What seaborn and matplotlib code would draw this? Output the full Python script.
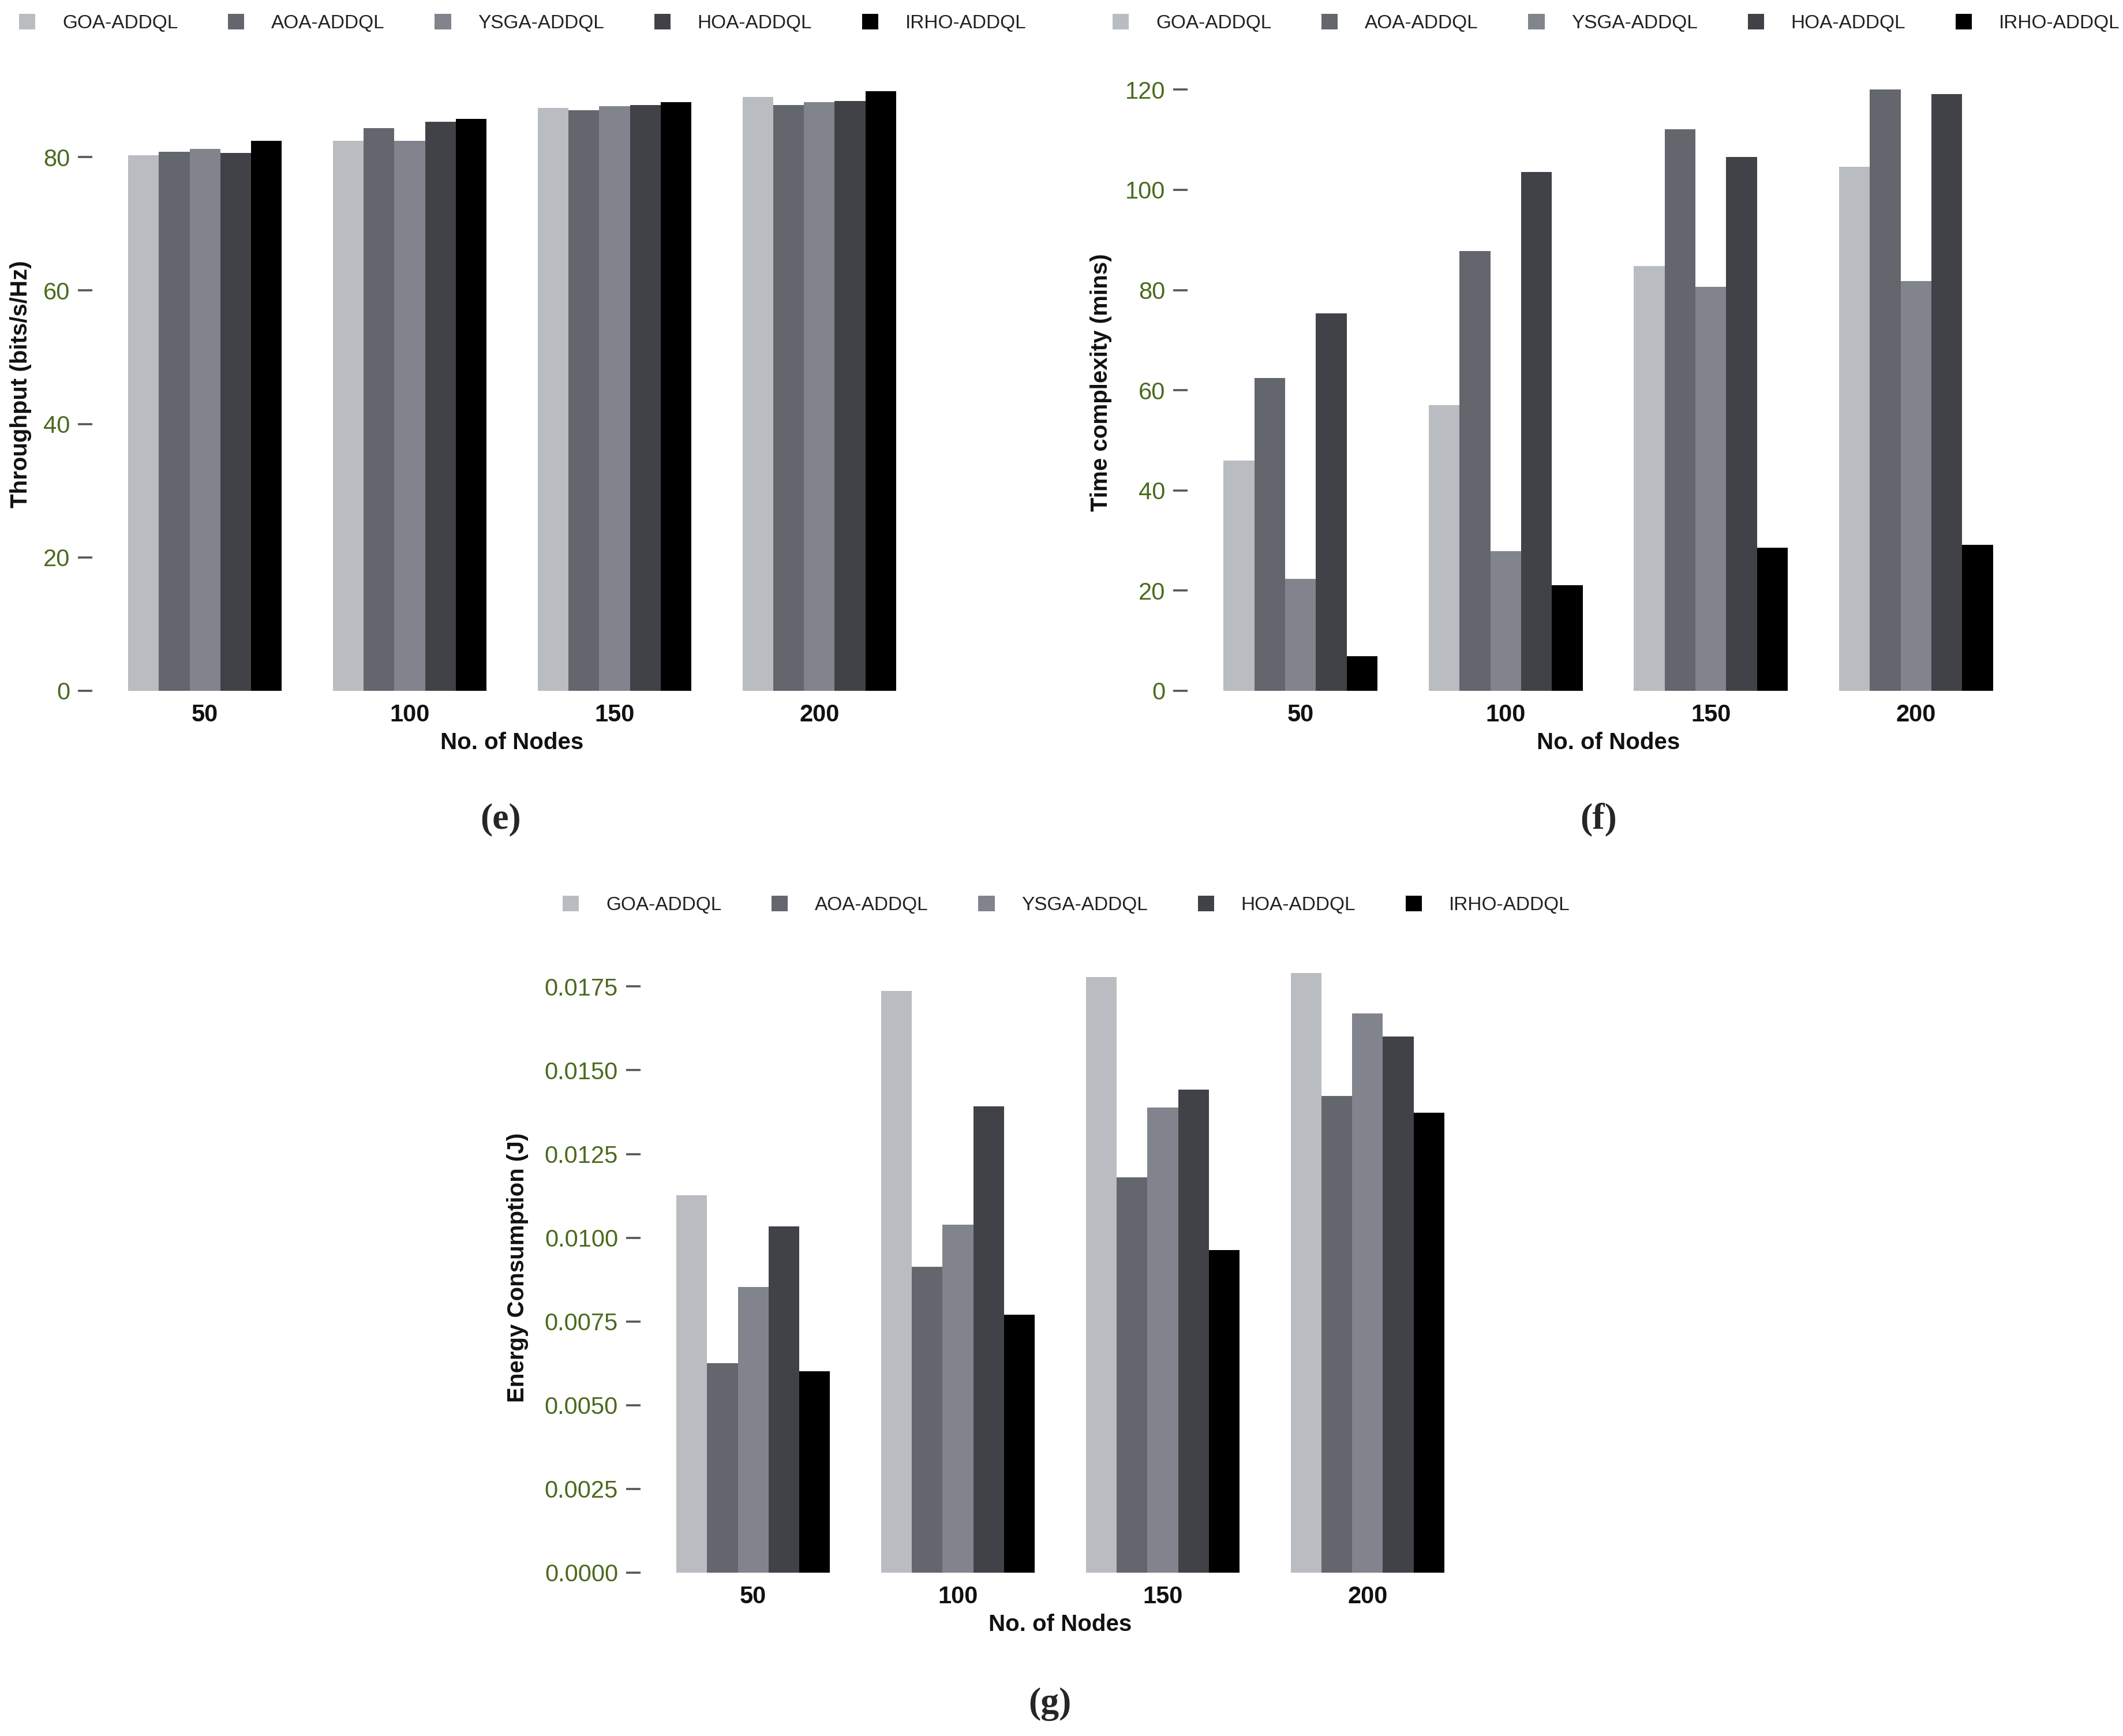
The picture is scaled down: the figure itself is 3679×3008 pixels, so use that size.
import matplotlib
matplotlib.use("Agg")
import matplotlib.pyplot as plt
import pandas as pd
import seaborn as sns

# ── Data ─────────────────────────────────────────────────────────────────────
methods = ["GOA-ADDQL", "AOA-ADDQL", "YSGA-ADDQL", "HOA-ADDQL", "IRHO-ADDQL"]
nodes = ["50", "100", "150", "200"]
bar_colors = ["#b9bcc0", "#63666d", "#81848d", "#414247", "#000000"]

# one row per method, one value per node count
throughput = [
    [80.3, 82.4, 87.4, 89.0],
    [80.8, 84.3, 87.0, 87.8],
    [81.2, 82.4, 87.6, 88.2],
    [80.6, 85.3, 87.8, 88.4],
    [82.4, 85.7, 88.2, 89.9],
]
time_complexity = [
    [46.0, 57.0, 84.8, 104.6],
    [62.5, 87.8, 112.1, 120.0],
    [22.4, 27.9, 80.7, 81.8],
    [75.3, 103.6, 106.6, 119.1],
    [6.9, 21.1, 28.6, 29.2],
]
energy = [
    [0.01126, 0.01737, 0.01778, 0.01791],
    [0.00625, 0.00913, 0.01181, 0.01423],
    [0.00852, 0.01039, 0.01388, 0.01669],
    [0.01034, 0.01393, 0.01442, 0.01600],
    [0.00602, 0.00771, 0.00963, 0.01373],
]

throughput_ticks = [0, 20, 40, 60, 80]
time_ticks = [0, 20, 40, 60, 80, 100, 120]
energy_ticks = [0.0, 0.0025, 0.005, 0.0075, 0.01, 0.0125, 0.015, 0.0175]

# ── Style ────────────────────────────────────────────────────────────────────
sns.set_theme(style="white")
SANS = ["Liberation Sans", "DejaVu Sans"]
plt.rcParams["font.family"] = SANS
TICK_GREEN = "#4b6a1e"

W, H = 3680, 3008
DPI = 200
fig = plt.figure(figsize=(W / DPI, H / DPI), dpi=DPI)
fig.patch.set_facecolor("white")


def to_frame(values):
    rows = []
    for m, series in zip(methods, values):
        for n, v in zip(nodes, series):
            rows.append({"Nodes": n, "Method": m, "Value": v})
    return pd.DataFrame(rows)


def add_panel(x0, x1, y_zero, px_per_unit, y_top):
    """Axes placed in pixel space: x0..x1 horizontally, value 0 at y_zero."""
    top_px = y_zero - y_top * px_per_unit
    rect = [x0 / W, 1 - y_zero / H, (x1 - x0) / W, (y_zero - top_px) / H]
    ax = fig.add_axes(rect)
    ax.set_ylim(0, y_top)
    return ax


def draw(ax, values, ylabel, yticks, fmt, label_x, legend_xy):
    df = to_frame(values)
    sns.barplot(data=df, x="Nodes", y="Value", hue="Method",
                order=nodes, hue_order=methods, palette=bar_colors,
                saturation=1, width=0.75, linewidth=0, ax=ax)
    ax.set_xlim(-0.55, 3.55)
    ax.set_yticks(yticks)
    ax.set_yticklabels([fmt.format(t) for t in yticks])
    for s in ax.spines.values():
        s.set_visible(False)
    ax.tick_params(axis="y", length=9, width=1.3, color="#555555",
                   pad=5, labelsize=15, labelcolor=TICK_GREEN, left=True)
    ax.tick_params(axis="x", length=0, pad=8, labelsize=15)
    for lab in ax.get_xticklabels():
        lab.set_fontweight("bold")
        lab.set_color("#111111")
    ax.set_xlabel("No. of Nodes", fontsize=14.5, fontweight="bold",
                  labelpad=3, color="#111111")
    ax.set_ylabel(ylabel, fontsize=14.5, fontweight="bold", color="#111111")
    ax.yaxis.set_label_coords(label_x, 0.5)
    sns.move_legend(ax, "center left", bbox_to_anchor=legend_xy,
                    bbox_transform=fig.transFigure, ncol=5, frameon=False,
                    title=None, fontsize=12, handlelength=0.85,
                    handleheight=0.85, handletextpad=1.4, columnspacing=2.6,
                    borderaxespad=0, borderpad=0)
    for t in ax.get_legend().get_texts():
        t.set_color("#222222")


# ── (e) Throughput ───────────────────────────────────────────────────────────
ax_e = add_panel(160, 1615, 1197, 11.56, 92)
draw(ax_e, throughput, "Throughput (bits/s/Hz)", throughput_ticks, "{:g}",
     -0.072, (33 / W, 1 - 40 / H))

# ── (f) Time complexity ──────────────────────────────────────────────────────
ax_f = add_panel(2058, 3516, 1197, 8.68, 123)
draw(ax_f, time_complexity, "Time complexity (mins)", time_ticks, "{:g}",
     -0.09, (1928 / W, 1 - 40 / H))

# ── (g) Energy consumption ───────────────────────────────────────────────────
ax_g = add_panel(1110, 2565, 2725, 58040, 0.0182)
draw(ax_g, energy, "Energy Consumption (J)", energy_ticks, "{:.4f}",
     -0.133, (975 / W, 1 - 1568 / H))

# ── Panel captions ───────────────────────────────────────────────────────────
for label, (cx, cy) in {"(e)": (868, 1420), "(f)": (2770, 1420),
                        "(g)": (1819, 2953)}.items():
    fig.text(cx / W, 1 - cy / H, label, ha="center", va="center",
             fontsize=23, fontweight="bold",
             family=["Liberation Serif", "DejaVu Serif"])

fig.savefig("out.png", dpi=DPI)
plt.close(fig)
